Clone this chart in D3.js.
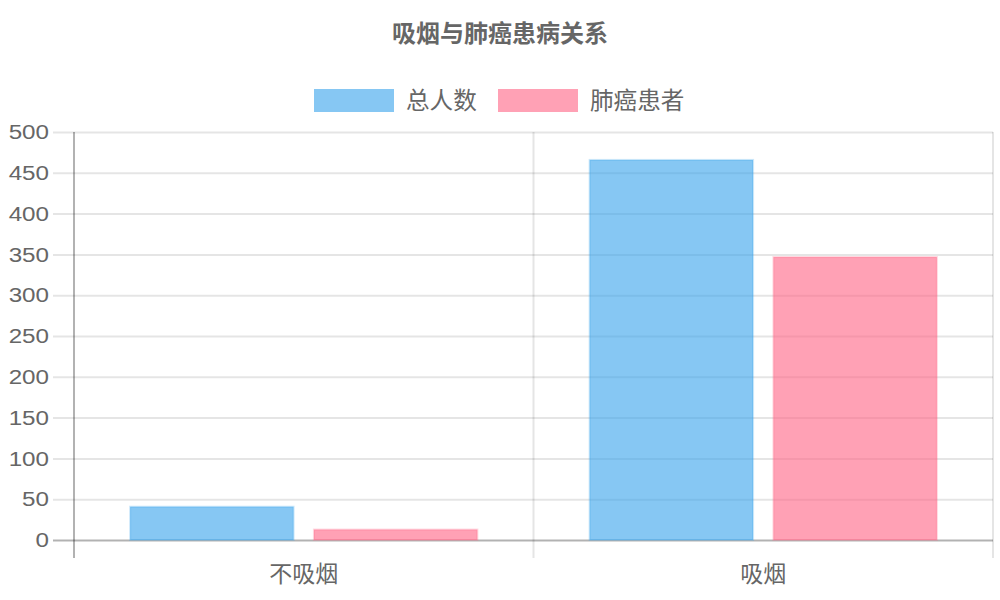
<!DOCTYPE html>
<html><head><meta charset="utf-8">
<script src="https://cdn.jsdelivr.net/npm/d3@7"></script>
<style>
html,body{margin:0;padding:0;background:#fff;}
text{font-family:"Liberation Sans","Noto Sans CJK SC",sans-serif;fill:#666;}
.cjk{font-family:"Noto Sans CJK SC","Liberation Sans",sans-serif;}
</style></head>
<body>
<svg id="c" width="1000" height="600"></svg>
<script>
const title = "吸烟与肺癌患病关系";
const categories = ["不吸烟", "吸烟"];
const seriesNames = ["总人数", "肺癌患者"];
const totalPeople = [42, 467];
const lungCancer = [14, 348];
const yTicks = [0, 50, 100, 150, 200, 250, 300, 350, 400, 450, 500];
const colors = ["rgb(54,162,235)", "rgb(255,99,132)"];

const svg = d3.select("#c");
const pLeft = 74, pRight = 993, pTop = 132, pBottom = 540;

const x = d3.scaleBand().domain(categories).range([pLeft, pRight]).paddingInner(0).paddingOuter(0);
const y = d3.scaleLinear().domain([0, 500]).range([pBottom, pTop]);
const inner = d3.scaleBand().domain(seriesNames).range([0, x.bandwidth() * 0.8]).paddingInner(0.1).paddingOuter(0.05);

// y gridlines
const ya = svg.append("g").attr("transform", `translate(${pLeft},0)`)
  .call(d3.axisLeft(y).tickValues(yTicks).tickSize(0).tickSizeOuter(0).tickFormat(""));
ya.select(".domain").remove();
ya.selectAll(".tick line").attr("x1", -21).attr("x2", pRight - pLeft)
  .attr("stroke", d => d === 0 ? "rgba(0,0,0,0.3)" : "rgba(0,0,0,0.1)").attr("stroke-width", 2);
// y labels
svg.append("g").selectAll("g").data(yTicks).join("g")
  .attr("transform", d => `translate(49,${y(d)}) scale(1.18,1)`)
  .append("text").attr("text-anchor", "end").attr("dy", "0.35em")
  .style("font-size", "20.5px").text(d => d);

// x gridlines (category boundaries)
const bounds = [pLeft, x(categories[1]), pRight];
svg.append("g").selectAll("line").data(bounds).join("line")
  .attr("x1", d => d).attr("x2", d => d).attr("y1", pTop).attr("y2", pBottom + 18)
  .attr("stroke", (d, i) => i === 0 ? "rgba(0,0,0,0.3)" : "rgba(0,0,0,0.1)").attr("stroke-width", 2);

// x labels
svg.append("g").selectAll("text").data(categories).join("text").attr("class", "cjk")
  .attr("x", d => x(d) + x.bandwidth() / 2).attr("y", 582).attr("text-anchor", "middle")
  .style("font-size", "23px").text(d => d);

// bars
const data = [totalPeople, lungCancer];
seriesNames.forEach((s, si) => {
  svg.append("g").selectAll("rect").data(categories).join("rect")
    .attr("x", c => x(c) + x.bandwidth() * 0.1 + inner(s) + 1)
    .attr("width", inner.bandwidth() - 2)
    .attr("y", (c, i) => y(data[si][i]) + 1)
    .attr("height", (c, i) => pBottom - y(data[si][i]) - 1)
    .attr("fill", colors[si]).attr("fill-opacity", 0.6)
    .attr("stroke", colors[si]).attr("stroke-opacity", 0.25).attr("stroke-width", 2);
});

// title
svg.append("text").attr("class", "cjk").attr("x", 500).attr("y", 42).attr("text-anchor", "middle")
  .style("font-size", "24px").style("font-weight", "bold").text(title);

// legend
const legendX = [314, 498];
seriesNames.forEach((s, i) => {
  svg.append("rect").attr("x", legendX[i]).attr("y", 89).attr("width", 80).attr("height", 23)
    .attr("fill", colors[i]).attr("fill-opacity", 0.6);
  svg.append("text").attr("class", "cjk").attr("x", legendX[i] + 92).attr("y", 109)
    .style("font-size", "23.6px").text(s);
});
</script>
</body></html>
